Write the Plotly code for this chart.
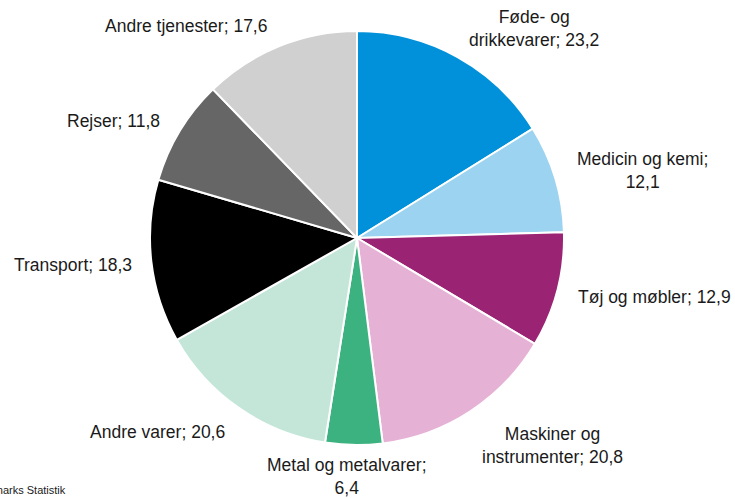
import plotly.graph_objects as go

categories = ["Føde- og drikkevarer", "Medicin og kemi", "Tøj og møbler",
              "Maskiner og instrumenter", "Metal og metalvarer", "Andre varer",
              "Transport", "Rejser", "Andre tjenester"]
label_lines = ["Føde- og<br>drikkevarer", "Medicin og kemi;<br>", "Tøj og møbler",
               "Maskiner og<br>instrumenter", "Metal og metalvarer;<br>", "Andre varer",
               "Transport", "Rejser", "Andre tjenester"]
values = [23.2, 12.1, 12.9, 20.8, 6.4, 20.6, 18.3, 11.8, 17.6]
colors = ["#0091DA", "#9BD3F0", "#9B2373", "#E5B1D5", "#3BB27F",
          "#C3E6D8", "#000000", "#666666", "#D0D0D0"]
# label centres in pixels (layout only)
label_pos = [(534, 28), (642, 170), (654, 297), (552, 445), (347, 476),
             (157, 432), (73, 265), (113, 121), (186, 26)]

W, H = 735, 498
cx, cy, r = 357, 238, 207

fig = go.Figure(go.Pie(
    labels=categories, values=values, sort=False, direction="clockwise",
    rotation=0, marker=dict(colors=colors, line=dict(color="white", width=2)),
    textinfo="none", hoverinfo="label+value", showlegend=False,
    domain=dict(x=[(cx - r) / W, (cx + r) / W],
                y=[(H - cy - r) / H, (H - cy + r) / H]),
))

for lab, v, (px, py) in zip(label_lines, values, label_pos):
    val = f"{v:.1f}".replace(".", ",")
    if lab.endswith("<br>"):
        txt = lab + val
    else:
        txt = lab + "; " + val
    fig.add_annotation(x=px / W, y=1 - py / H, xref="paper", yref="paper",
                       text=txt, showarrow=False, xanchor="center", yanchor="middle",
                       align="center", font=dict(size=17.5, color="#1a1a1a"))

fig.add_annotation(x=68 / W, y=1 - 490 / H, xref="paper", yref="paper",
                   text="Kilde: Danmarks Statistik", showarrow=False,
                   xanchor="right", yanchor="middle",
                   font=dict(size=11, color="#1a1a1a"))

fig.update_layout(width=W, height=H, margin=dict(l=0, r=0, t=0, b=0),
                  paper_bgcolor="white", plot_bgcolor="white",
                  font=dict(family="Liberation Sans, Arial, sans-serif"))
fig.write_html("out.html", config={"displayModeBar": False},
               post_script="document.body.style.margin='0px';document.body.style.overflow='hidden';")
